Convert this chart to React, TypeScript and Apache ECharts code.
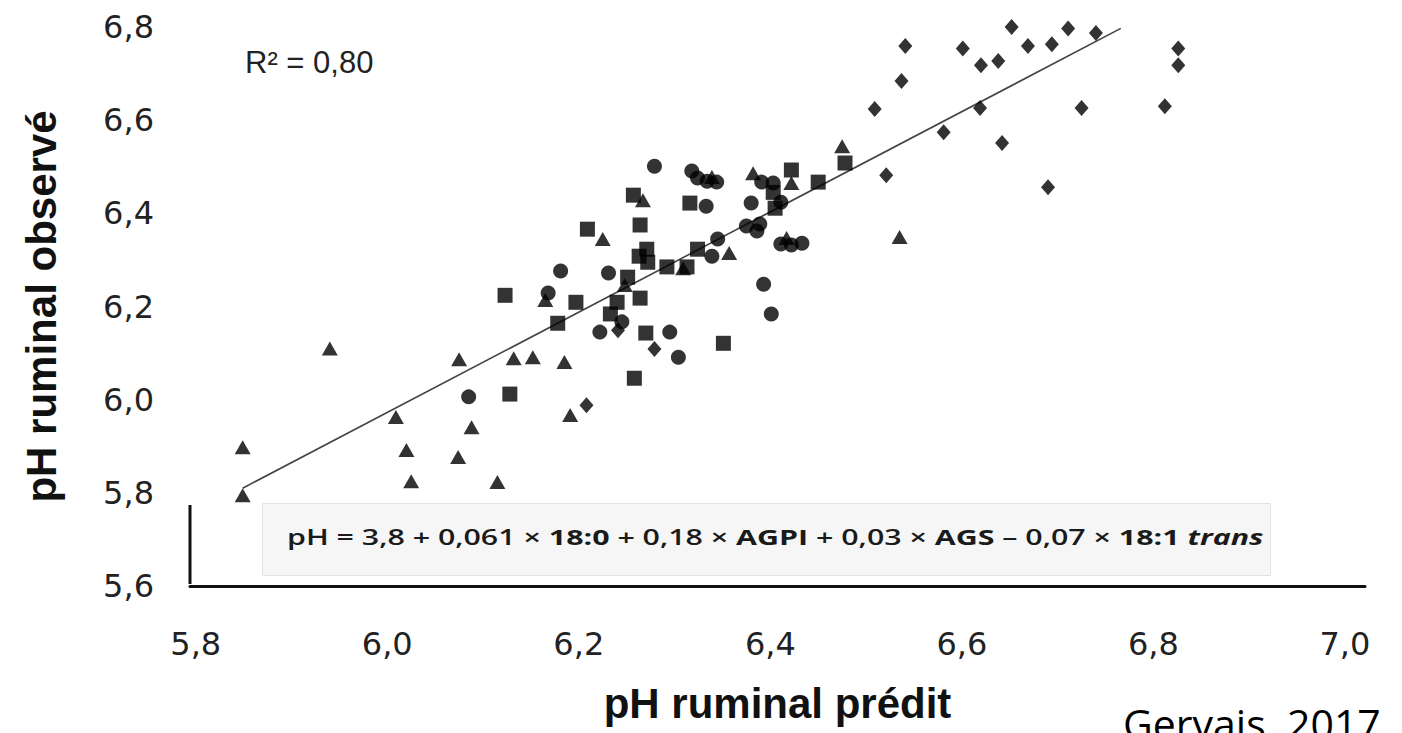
import React, { useEffect, useRef } from "react";
import * as echarts from "echarts";

const xTickValues = [5.8, 6.0, 6.2, 6.4, 6.6, 6.8, 7.0];
const yMin = 5.6;
const yMax = 6.8;
const yStep = 0.2;

const xTitle = "pH ruminal prédit";
const yTitle = "pH ruminal observé";
const r2Label = "R² = 0,80";
const sourceLabel = "Gervais, 2017";

// regression line end points (predicted, observed)
const trendLine = [
  [5.849, 5.81],
  [6.766, 6.797],
];

const triangles = [
  [5.849, 5.898], [5.849, 5.795], [5.94, 6.11], [6.009, 5.963], [6.02, 5.892],
  [6.025, 5.825], [6.074, 5.877], [6.088, 5.941], [6.075, 6.087], [6.115, 5.823],
  [6.132, 6.089], [6.152, 6.091], [6.185, 6.081], [6.191, 5.967], [6.165, 6.214],
  [6.225, 6.345], [6.248, 6.246], [6.267, 6.428], [6.309, 6.282], [6.357, 6.315],
  [6.382, 6.486], [6.339, 6.478], [6.422, 6.465], [6.475, 6.544], [6.535, 6.349],
  [6.417, 6.347],
];

const squares = [
  [6.123, 6.224], [6.128, 6.012], [6.178, 6.164], [6.197, 6.209], [6.209, 6.366],
  [6.233, 6.184], [6.24, 6.209], [6.251, 6.263], [6.257, 6.439], [6.264, 6.375],
  [6.264, 6.218], [6.271, 6.323], [6.263, 6.308], [6.272, 6.295], [6.27, 6.143],
  [6.258, 6.046], [6.292, 6.285], [6.313, 6.285], [6.324, 6.323], [6.316, 6.422],
  [6.351, 6.121], [6.403, 6.445], [6.405, 6.411], [6.422, 6.493], [6.45, 6.467],
  [6.478, 6.508],
];

const circles = [
  [6.085, 6.006], [6.181, 6.276], [6.168, 6.229], [6.222, 6.145], [6.231, 6.272],
  [6.245, 6.167], [6.279, 6.501], [6.295, 6.145], [6.304, 6.091], [6.318, 6.491],
  [6.324, 6.476], [6.334, 6.469], [6.344, 6.467], [6.333, 6.415], [6.345, 6.345],
  [6.339, 6.308], [6.375, 6.373], [6.386, 6.362], [6.389, 6.377], [6.38, 6.422],
  [6.391, 6.467], [6.403, 6.465], [6.393, 6.248], [6.401, 6.184], [6.411, 6.334],
  [6.422, 6.332], [6.433, 6.336], [6.411, 6.424],
];

const diamonds = [
  [6.208, 5.988], [6.241, 6.149], [6.279, 6.109], [6.521, 6.482], [6.509, 6.624],
  [6.537, 6.684], [6.541, 6.759], [6.581, 6.574], [6.601, 6.754], [6.62, 6.718],
  [6.638, 6.727], [6.619, 6.626], [6.642, 6.551], [6.652, 6.8], [6.669, 6.759],
  [6.69, 6.456], [6.694, 6.763], [6.711, 6.797], [6.725, 6.626], [6.737, 6.806],
  [6.74, 6.787], [6.812, 6.63], [6.826, 6.754], [6.826, 6.718],
];

const fmt = (v: number) => v.toFixed(1).replace(".", ",");

export default function App() {
  const ref = useRef<HTMLDivElement>(null);
  useEffect(() => {
    const chart = echarts.init(ref.current!, null, { renderer: "svg" });
    const scatter = (name: string, symbol: string, data: number[][], size: number | number[]) => ({
      name,
      type: "scatter",
      symbol,
      symbolSize: size,
      data,
      itemStyle: { color: "#000" },
      z: 3,
    });
    chart.setOption({
      animation: false,
      backgroundColor: "#fff",
      grid: { left: 190, right: 37, top: 27, bottom: 147 },
      xAxis: {
        type: "value",
        min: 5.794,
        max: 7.021,
        splitLine: { show: false },
        axisTick: { show: false },
        axisLine: { show: true, lineStyle: { color: "#111", width: 3 } },
        axisLabel: {
          customValues: xTickValues,
          formatter: fmt,
          fontFamily: "DejaVu Sans",
          fontSize: 32,
          color: "#222",
          margin: 42,
        },
        name: xTitle,
        nameLocation: "middle",
        nameGap: 96,
        nameTextStyle: { fontFamily: "Liberation Sans", fontWeight: "bold", fontSize: 42, color: "#111" },
      },
      yAxis: {
        type: "value",
        min: yMin,
        max: yMax,
        interval: yStep,
        splitLine: { show: false },
        axisTick: { show: false },
        axisLine: { show: false },
        axisLabel: {
          formatter: fmt,
          fontFamily: "DejaVu Sans",
          fontSize: 32,
          color: "#222",
          margin: 36,
        },
        name: yTitle,
        nameLocation: "middle",
        nameGap: 128,
        nameRotate: 90,
        nameTextStyle: { fontFamily: "Liberation Sans", fontWeight: "bold", fontSize: 42, color: "#111" },
      },
      series: [
        {
          type: "line",
          data: trendLine,
          symbol: "none",
          lineStyle: { color: "#444", width: 1.6 },
          z: 2,
        },
        scatter("triangles", "triangle", triangles, [16, 14]),
        scatter("squares", "rect", squares, 15),
        scatter("circles", "circle", circles, 15),
        scatter("diamonds", "diamond", diamonds, [14, 16]),
      ],
      graphic: [
        {
          type: "rect",
          left: 262,
          top: 503,
          shape: { width: 1008, height: 72 },
          style: { fill: "#f6f6f6", stroke: "#e2e2e2", lineWidth: 1 },
          z: 1,
        },
        {
          type: "line",
          shape: { x1: 190, y1: 505, x2: 190, y2: 584 },
          style: { stroke: "#111", lineWidth: 3 },
          z: 1,
        },
        {
          type: "text",
          x: 287,
          y: 537,
          scaleX: 1.38,
          style: {
            text:
              "{n|pH = 3,8 + 0,061 × }{b|18:0}{n| + 0,18 × }{b|AGPI}{n| + 0,03 × }{b|AGS}{n| – 0,07 × }{b|18:1 }{i|trans}",
            verticalAlign: "middle",
            align: "left",
            rich: {
              n: { fontFamily: "Open Sans", fontWeight: 600, fontSize: 22, fill: "#1a1a1a" },
              b: { fontFamily: "Open Sans", fontWeight: "bold", fontSize: 22, fill: "#1a1a1a" },
              i: { fontFamily: "Open Sans", fontWeight: "bold", fontStyle: "italic", fontSize: 22, fill: "#1a1a1a" },
            },
          },
          z: 5,
        },
        {
          type: "text",
          left: 245,
          top: 47,
          style: { text: r2Label, fontFamily: "Liberation Sans", fontSize: 31, fill: "#222" },
          z: 5,
        },
        {
          type: "text",
          left: 1123,
          top: 702,
          style: { text: sourceLabel, fontFamily: "Open Sans", fontSize: 41, fill: "#000" },
          z: 5,
        },
      ],
    });
    return () => chart.dispose();
  }, []);
  return (
    <div
      ref={ref}
      style={{ position: "fixed", left: 0, top: 0, width: 1402, height: 733, background: "#fff" }}
    />
  );
}
